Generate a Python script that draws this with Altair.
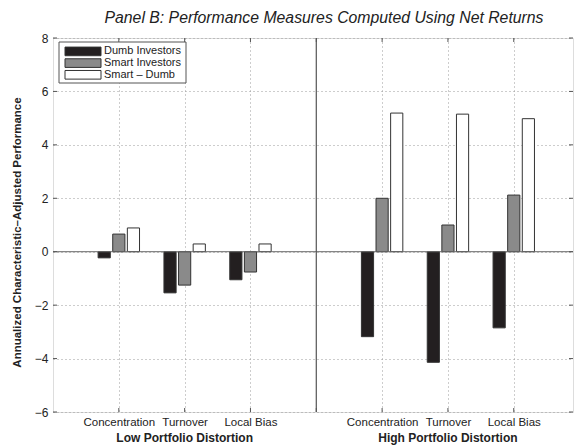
import json
import altair as alt
import pandas as pd

# ---- data ----
panels = ["Low Portfolio Distortion", "High Portfolio Distortion"]
measures = ["Concentration", "Turnover", "Local Bias"]
series = ["Dumb Investors", "Smart Investors", "Smart \u2013 Dumb"]
dumb = [-0.23, -1.54, -1.05, -3.18, -4.14, -2.85]
smart = [0.66, -1.25, -0.76, 2.00, 1.00, 2.12]
smart_minus_dumb = [0.89, 0.29, 0.29, 5.19, 5.15, 4.98]
y_ticks = [-6, -4, -2, 0, 2, 4, 6, 8]
colors = ["#231f20", "#8a8a8a", "#ffffff"]
title = "Panel B: Performance Measures Computed Using Net Returns"
y_title = "Annualized Characteristic\u2013Adjusted Performance"

# ---- layout constants ----
W, H = 520, 374
FONT = "Liberation Sans"
GROUP = 4          # slots per panel (3 measures + divider)
OFF = 0.222        # offset between bars in a group
BW = 0.185         # bar width in x units

rows = []
for vals, si in ((dumb, 0), (smart, 1), (smart_minus_dumb, 2)):
    for k, v in enumerate(vals):
        pi, mi = divmod(k, len(measures))
        rows.append({"panel": panels[pi], "measure": measures[mi], "series": series[si],
                     "pi": pi, "mi": mi, "si": si, "value": v})
df = pd.DataFrame(rows)

slot_labels = []
for p in panels:
    slot_labels += [""] + measures
slot_labels += [""]
x_tick_vals = [i for i in range(1, 2 * GROUP) if i % GROUP != 0]
label_expr = json.dumps(slot_labels) + "[datum.value]"

xs = alt.Scale(domain=[0, 7.9], nice=False, zero=False)
ys = alt.Scale(domain=[-6, 8], nice=False, zero=False)
cs = alt.Scale(domain=series, range=colors)

bars = alt.Chart(df).transform_calculate(
    xc=f"datum.pi*{GROUP} + datum.mi + 1 + (datum.si - 1)*{OFF}"
).transform_calculate(
    x0=f"datum.xc - {BW/2}", x1=f"datum.xc + {BW/2}"
).mark_bar(stroke="#333333", strokeWidth=1).encode(
    x=alt.X("x0:Q", scale=xs, axis=alt.Axis(
        values=x_tick_vals, labelExpr=label_expr, title=None, grid=True,
        gridDash=[1, 3], gridColor="#9a9a9a", ticks=False, domain=False,
        labelPadding=4, labelFontSize=11.5, labelFont=FONT, labelColor="#222")),
    x2="x1:Q",
    y=alt.Y("value:Q", scale=ys, axis=alt.Axis(
        values=y_ticks, format="d", title=y_title, grid=True, gridDash=[1, 3],
        gridColor="#9a9a9a", ticks=False, domain=False, labelPadding=5,
        labelFontSize=12, labelFont=FONT, labelColor="#222",
        titleFont=FONT, titleFontSize=11.5, titleFontWeight="bold", titleColor="#222",
        titleX=-36, titleY=H / 2 + 7, titleBaseline="middle", titleAngle=-90)),
    y2=alt.datum(0),
    fill=alt.Color("series:N", scale=cs, legend=None),
)

zero_line = alt.Chart(pd.DataFrame({"v": [0]})).mark_rule(color="#666", strokeWidth=1).encode(
    y=alt.Y("v:Q", scale=ys))
divider = alt.Chart(pd.DataFrame({"v": [GROUP]})).mark_rule(color="#555", strokeWidth=1.2).encode(
    x=alt.X("v:Q", scale=xs))

ytk = pd.DataFrame({"v": y_ticks})
xtk = pd.DataFrame({"v": list(range(1, 2 * GROUP))})
tick_l = alt.Chart(ytk).mark_rule(color="#555").encode(
    y=alt.Y("v:Q", scale=ys), x=alt.value(0), x2=alt.value(4))
tick_r = alt.Chart(ytk).mark_rule(color="#555").encode(
    y=alt.Y("v:Q", scale=ys), x=alt.value(W - 4), x2=alt.value(W))
tick_b = alt.Chart(xtk).mark_rule(color="#555").encode(
    x=alt.X("v:Q", scale=xs), y=alt.value(H - 4), y2=alt.value(H))
tick_t = alt.Chart(xtk).mark_rule(color="#555").encode(
    x=alt.X("v:Q", scale=xs), y=alt.value(0), y2=alt.value(4))

group_labels = alt.Chart(pd.DataFrame({"panel": panels, "pi": list(range(len(panels)))})).transform_calculate(
    gx=f"datum.pi*{GROUP} + 2"
).mark_text(font=FONT, fontSize=12, fontWeight="bold", baseline="middle", color="#222").encode(
    x=alt.X("gx:Q", scale=xs), y=alt.value(H + 26), text="panel:N")

main = alt.layer(bars, zero_line, divider, tick_l, tick_r, tick_b, tick_t, group_labels)

# ---- legend (inside upper-left) ----
leg_df = pd.DataFrame({"series": series})
ly = alt.Y("series:N", scale=alt.Scale(domain=series, range=[13.4, 36.8], padding=0), axis=None)
leg_box = alt.Chart(pd.DataFrame({"a": [0]})).mark_rect(fill="white", stroke="#555", strokeWidth=1).encode(
    x=alt.value(6), x2=alt.value(133), y=alt.value(4), y2=alt.value(45))
leg_sw = alt.Chart(leg_df).mark_point(
    shape="M-1,-0.24L1,-0.24L1,0.24L-1,0.24Z", size=1296, filled=True, opacity=1,
    stroke="#333", strokeWidth=1).encode(
    x=alt.value(30), y=ly, fill=alt.Color("series:N", scale=cs, legend=None))
leg_tx = alt.Chart(leg_df).mark_text(align="left", baseline="middle", font=FONT, fontSize=11,
                                     color="#222").encode(x=alt.value(51), y=ly, text="series:N")
legend = alt.layer(leg_box, leg_sw, leg_tx)

chart = alt.layer(main, legend).resolve_scale(y="independent").properties(
    width=W, height=H,
    title=alt.TitleParams(title, font=FONT, fontSize=15.8, fontStyle="italic", fontWeight="normal",
                          color="#222", anchor="middle", dx=11, offset=5),
    autosize=alt.AutoSizeParams(type="none"),
    padding={"left": 45, "top": 30, "right": 1, "bottom": 34},
).configure_view(stroke="#555", strokeWidth=1).configure(background="white")

chart.save("out.html", embed_options={"renderer": "svg", "actions": False})
